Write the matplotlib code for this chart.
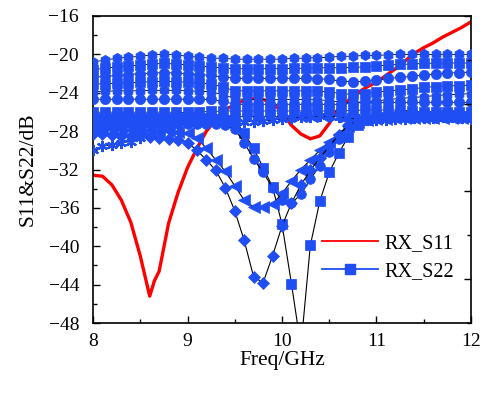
import matplotlib
matplotlib.use("Agg")
import matplotlib.pyplot as plt
from matplotlib.lines import Line2D
from matplotlib.ticker import MultipleLocator

plt.rcParams['font.family'] = ['Liberation Serif', 'DejaVu Serif']

# ---------------- data ----------------
s11_freq = [8.0, 8.1, 8.2, 8.3, 8.4, 8.5, 8.6, 8.65, 8.7, 8.8, 8.9, 9.0, 9.1, 9.2, 9.3,
            9.4, 9.5, 9.6, 9.7, 9.8, 9.9, 10.0, 10.1, 10.2, 10.3, 10.4, 10.5, 10.6,
            10.7, 10.8, 10.9, 11.0, 11.1, 11.2, 11.3, 11.4, 11.5, 11.6, 11.7, 11.8,
            11.9, 12.0]
s11_db = [-32.6, -32.7, -33.6, -35.2, -37.5, -41.0, -45.2, -43.6, -42.6, -37.6, -34.4,
          -31.8, -29.8, -28.0, -26.8, -25.8, -25.2, -24.8, -24.6, -24.7, -25.1, -26.0,
          -27.4, -28.3, -28.8, -28.5, -27.2, -25.6, -24.8, -24.0, -23.4, -22.9, -22.2,
          -21.5, -20.7, -19.9, -19.3, -18.8, -18.2, -17.7, -17.2, -16.6]

# S22 sweep: densely sampled members (0.125 GHz grid)
band_freq = [8.0, 8.125, 8.25, 8.375, 8.5, 8.625, 8.75, 8.875, 9.0, 9.125, 9.25,
             9.375, 9.5, 9.625, 9.75, 9.875, 10.0, 10.125, 10.25, 10.375, 10.5,
             10.625, 10.75, 10.875, 11.0, 11.125, 11.25, 11.375, 11.5, 11.625,
             11.75, 11.875, 12.0]
band_u1 = [-20.8, -20.6, -20.4, -20.3, -20.2, -20.05, -20.0, -20.05, -20.2, -20.3, -20.4,
           -20.4, -20.5, -20.5, -20.5, -20.5, -20.5, -20.4, -20.4, -20.35, -20.3,
           -20.2, -20.2, -20.1, -20.1, -20.05, -20.0, -20.0, -20.0, -20.0, -20.0, -20.0, -20.0]
band_u2 = [-21.6, -21.45, -21.3, -21.2, -21.1, -21.0, -20.95, -21.0, -21.1, -21.2, -21.3,
           -21.4, -21.5, -21.5, -21.5, -21.5, -21.5, -21.45, -21.45, -21.4, -21.4,
           -21.4, -21.35, -21.3, -21.2, -21.1, -21.05, -21.0, -20.95, -20.9, -20.9, -20.9, -20.9]
band_u3 = [-22.4, -22.3, -22.2, -22.1, -22.0, -21.95, -21.9, -21.95, -22.0, -22.1, -22.2,
           -22.35, -22.5, -22.5, -22.5, -22.5, -22.5, -22.5, -22.5, -22.55, -22.6,
           -22.8, -22.85, -22.8, -22.65, -22.5, -22.4, -22.3, -22.15, -22.05, -21.95, -21.9, -21.85]
band_u4 = [-23.1, -23.05, -23.0, -22.95, -22.9, -22.85, -22.8, -22.85, -22.9, -23.0, -23.1,
           -23.4, -23.8, -23.8, -23.8, -23.8, -23.8, -23.8, -23.8, -23.85, -23.9,
           -24.1, -24.15, -24.1, -23.95, -23.8, -23.7, -23.6, -23.45, -23.35, -23.3, -23.25, -23.2]
band_u5 = [-23.9, -23.85, -23.8, -23.8, -23.8, -23.75, -23.75, -23.75, -23.8, -23.85, -23.9,
           -24.2, -24.6, -24.7, -24.7, -24.7, -24.7, -24.7, -24.7, -24.75, -24.8,
           -25.0, -25.0, -24.95, -24.85, -24.7, -24.6, -24.5, -24.4, -24.3, -24.2, -24.15, -24.1]
band_u6 = [-24.7, -24.65, -24.7, -24.65, -24.7, -24.65, -24.7, -24.65, -24.7, -24.7, -24.7,
           -24.9, -25.2, -25.2, -25.2, -25.2, -25.2, -25.2, -25.2, -25.2, -25.2,
           -25.2, -25.1, -25.0, -25.0, -25.0, -25.0, -25.0, -25.0, -25.0, -25.0, -25.0, -25.0]
band_l1 = [-26.0, -26.05, -26.0, -26.05, -26.0, -26.05, -26.0, -26.05, -26.05, -26.0, -25.95,
           -25.9, -25.9, -25.9, -25.9, -25.9, -25.9, -25.9, -25.9, -25.9, -25.9,
           -25.9, -25.85, -25.8, -25.8, -25.8, -25.8, -25.9, -26.0, -26.0, -26.0, -26.0, -26.0]
band_l2 = [-27.2, -27.15, -27.1, -27.1, -27.05, -27.0, -27.0, -26.9, -26.85, -26.75, -26.6,
           -26.5, -26.5, -26.5, -26.5, -26.5, -26.5, -26.5, -26.5, -26.5, -26.5,
           -26.5, -26.5, -26.5, -26.6, -26.6, -26.6, -26.6, -26.6, -26.6, -26.6, -26.6, -26.6]

# S22 sweep: members with 0.1 GHz sampling
s22_freq = [8.0, 8.1, 8.2, 8.3, 8.4, 8.5, 8.6, 8.7, 8.8, 8.9,
            9.0, 9.1, 9.2, 9.3, 9.4, 9.5, 9.6, 9.7, 9.8, 9.9,
            10.0, 10.1, 10.2, 10.3, 10.4, 10.5, 10.6, 10.7, 10.8, 10.9,
            11.0, 11.1, 11.2, 11.3, 11.4, 11.5, 11.6, 11.7, 11.8, 11.9, 12.0]
s22_star = [-30.0, -29.6, -29.4, -29.2, -29.1, -28.7, -28.4, -28.0, -27.7, -27.4,
            -27.2, -27.0, -26.9, -26.8, -26.8, -26.9, -27.0, -27.0, -26.9, -26.8,
            -26.7, -26.6, -26.5, -26.5, -26.4, -26.4, -26.5, -26.6, -26.7, -26.8,
            -26.8, -26.8, -26.7, -26.7, -26.6, -26.6, -26.6, -26.5, -26.5, -26.6, -26.7]
s22_square = [-26.6, -26.6, -26.6, -26.6, -26.6, -26.6, -26.6, -26.6, -26.6, -26.6,
              -26.6, -26.6, -26.6, -26.7, -26.8, -26.9, -28.2, -29.8, -31.8, -33.8,
              -37.7, -43.9, -50.5, -39.9, -35.3, -32.3, -30.3, -28.6, -27.4, -26.8,
              -26.6, -26.5, -26.5, -26.4, -26.4, -26.4, -26.4, -26.4, -26.4, -26.4, -26.4]
s22_circle = [-27.4, -27.4, -27.4, -27.3, -27.3, -27.3, -27.3, -27.3, -27.3, -27.3,
              -27.3, -27.3, -27.3, -27.3, -27.4, -27.8, -29.2, -30.9, -32.3, -33.9,
              -35.2, -35.5, -34.6, -33.0, -31.6, -30.2, -28.8, -27.6, -26.9, -26.7,
              -26.6, -26.5, -26.5, -26.5, -26.5, -26.5, -26.5, -26.5, -26.5, -26.5, -26.5]
s22_triangle = [-27.8, -27.8, -27.8, -27.8, -27.9, -27.9, -27.9, -28.0, -28.0, -28.1,
                -28.2, -28.7, -29.8, -31.0, -32.2, -33.7, -35.2, -35.9, -35.9, -35.6,
                -34.5, -33.2, -32.0, -31.0, -30.0, -29.1, -28.3, -27.5, -27.0, -26.8,
                -26.7, -26.7, -26.6, -26.6, -26.6, -26.6, -26.6, -26.6, -26.6, -26.6, -26.6]
s22_diamond = [-28.3, -28.3, -28.4, -28.5, -28.5, -28.5, -28.6, -28.7, -28.8, -28.9,
               -29.2, -30.0, -31.0, -32.1, -33.9, -36.3, -39.4, -43.2, -43.8, -41.0,
               -37.9, -35.5, -33.6, -32.1, -30.8, -29.6, -28.4, -27.4, -26.9, -26.7,
               -26.5, -26.5, -26.4, -26.4, -26.4, -26.4, -26.4, -26.3, -26.3, -26.3, -26.3]

# ---------------- plotting ----------------
BLUE = '#1f4ef5'
RED = '#ff0000'

fig = plt.figure(figsize=(4.89, 3.97), dpi=100)
ax = fig.add_axes([93/489, 1 - 323/397, (471 - 93)/489, (323 - 16)/397])

ax.plot(s11_freq, s11_db, color=RED, lw=2.4, zorder=2, solid_joinstyle='round')

band = [(band_u1, 'h'), (band_u2, 's'), (band_u3, 'o'), (band_u4, 's'),
        (band_u5, 'h'), (band_u6, 'o'), (band_l1, 's'), (band_l2, 'h')]
for vals, mk in band:
    ax.plot(band_freq, vals, color='black', lw=0.6, marker=mk, ms=7.4,
            mfc=BLUE, mec=BLUE, mew=0.5, zorder=3)

ax.plot(s22_freq, s22_star, color='black', lw=0.7, marker=(6, 2, 0), ms=8,
        mfc=BLUE, mec=BLUE, mew=1.6, zorder=3)
for vals, mk, ms in [(s22_square, 's', 6.5), (s22_circle, 'o', 7),
                     (s22_triangle, '<', 8), (s22_diamond, 'D', 6.5)]:
    ax.plot(s22_freq, vals, color='black', lw=0.8, marker=mk, ms=ms,
            mfc=BLUE, mec=BLUE, mew=0.5, zorder=4)

ax.set_xlim(8, 12)
ax.set_ylim(-48, -16)
ax.xaxis.set_major_locator(MultipleLocator(1))
ax.xaxis.set_minor_locator(MultipleLocator(0.5))
ax.yaxis.set_major_locator(MultipleLocator(4))
ax.yaxis.set_minor_locator(MultipleLocator(2))
ax.tick_params(which='both', direction='in', top=False, right=False,
               labelsize=14, width=1.0)
ax.tick_params(which='major', length=5)
ax.tick_params(which='minor', length=3)
ax.tick_params(axis='y', pad=10)
ax.tick_params(axis='x', pad=7)
for sp in ax.spines.values():
    sp.set_linewidth(1.2)

# secondary (unlabelled) right axis ticks
ax2 = ax.twinx()
ax2.set_ylim(0, 7)
ax2.yaxis.set_major_locator(MultipleLocator(2, offset=1))
ax2.yaxis.set_minor_locator(MultipleLocator(2))
ax2.tick_params(which='both', direction='in', labelright=False, width=1.0)
ax2.tick_params(which='major', length=5)
ax2.tick_params(which='minor', length=3)
for sp in ax2.spines.values():
    sp.set_visible(False)

ax.set_xlabel('Freq/GHz', fontsize=15.5, labelpad=1)
ax.set_ylabel('S11&S22/dB', fontsize=15.5, labelpad=8)

handles = [Line2D([], [], color=RED, lw=1.3),
           Line2D([], [], color=BLUE, lw=1.3, marker='s', ms=7, mfc=BLUE, mec=BLUE)]
ax.legend(handles, ['RX_S11', 'RX_S22'], loc='center left',
          bbox_to_anchor=(0.606, 0.213), frameon=False, fontsize=14.5,
          handlelength=2.8, handletextpad=0.3, borderpad=0, labelspacing=0.45,
          borderaxespad=0)

fig.savefig('out.png', dpi=100)
